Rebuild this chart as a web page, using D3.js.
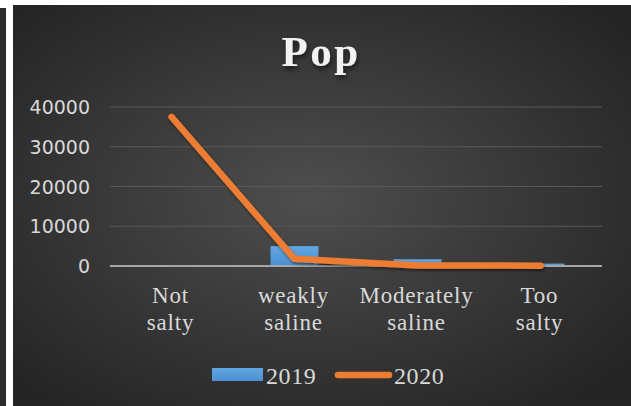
<!DOCTYPE html>
<html>
<head>
<meta charset="utf-8">
<script src="https://cdn.jsdelivr.net/npm/d3@7"></script>
<style>
  html, body { margin: 0; padding: 0; background: #fff; }
  svg { display: block; }
</style>
</head>
<body>
<div id="chart"></div>
<script>
// data
var categories = [["Not", "salty"], ["weakly", "saline"], ["Moderately", "saline"], ["Too", "salty"]];
var values_2019 = [0, 5000, 1700, 600];
var values_2020 = [37500, 1800, 150, 80];
var y_ticks = [0, 10000, 20000, 30000, 40000];
var series_names = ["2019", "2020"];

var width = 631, height = 406;
var margin = {top: 107, right: 29, bottom: 140, left: 110};
var serif = "Liberation Serif, Times New Roman, serif";

var svg = d3.select("#chart").append("svg")
  .attr("width", width)
  .attr("height", height);

var defs = svg.append("defs");

var bg = defs.append("radialGradient")
  .attr("id", "bg_grad")
  .attr("cx", "48%").attr("cy", "48%").attr("r", "65%");
bg.append("stop").attr("offset", "0%").attr("stop-color", "#4e4e4e");
bg.append("stop").attr("offset", "100%").attr("stop-color", "#252525");

var bar_grad = defs.append("linearGradient")
  .attr("id", "bar_grad")
  .attr("x1", 0).attr("y1", 0).attr("x2", 0).attr("y2", 1);
bar_grad.append("stop").attr("offset", "0%").attr("stop-color", "#62a6e2");
bar_grad.append("stop").attr("offset", "100%").attr("stop-color", "#4a8fd0");

var shadow = defs.append("filter").attr("id", "shadow")
  .attr("x", "-20%").attr("y", "-20%").attr("width", "140%").attr("height", "140%");
shadow.append("feDropShadow")
  .attr("dx", 1).attr("dy", 2).attr("stdDeviation", 1.5)
  .attr("flood-color", "#000").attr("flood-opacity", 0.5);

var soft = defs.append("filter").attr("id", "soft")
  .attr("x", "-20%").attr("y", "-20%").attr("width", "140%").attr("height", "140%");
soft.append("feDropShadow")
  .attr("dx", 1).attr("dy", 3).attr("stdDeviation", 2.5)
  .attr("flood-color", "#000").attr("flood-opacity", 0.6);

// left strip + panel
svg.append("rect").attr("x", 0).attr("y", 8).attr("width", 6).attr("height", height - 8).attr("fill", "#2b2b2b");
svg.append("rect").attr("x", 13).attr("y", 5).attr("width", width - 13).attr("height", height - 5).attr("fill", "url(#bg_grad)");

var x = d3.scaleBand()
  .domain(d3.range(categories.length))
  .range([margin.left, width - margin.right]);

var y = d3.scaleLinear()
  .domain([0, 40000])
  .range([height - margin.bottom, margin.top]);

// gridlines
svg.append("g").selectAll("line")
  .data(y_ticks.filter(function(d){ return d > 0 }))
  .enter().append("line")
  .attr("x1", margin.left).attr("x2", width - margin.right)
  .attr("y1", function(d){ return y(d) }).attr("y2", function(d){ return y(d) })
  .attr("stroke", "#585858").attr("stroke-width", 1);

// y labels
svg.append("g").selectAll("text")
  .data(y_ticks)
  .enter().append("text")
  .attr("x", 90)
  .attr("y", function(d){ return y(d) + 7 })
  .attr("text-anchor", "end")
  .attr("font-family", "DejaVu Sans, sans-serif")
  .attr("font-size", 19)
  .attr("fill", "#d9d9d9")
  .text(function(d){ return d });

// bars 2019
svg.append("g").selectAll("rect")
  .data(values_2019)
  .enter().append("rect")
  .attr("x", function(d, i){ return x(i) + x.bandwidth() * 0.305 })
  .attr("width", x.bandwidth() * 0.39)
  .attr("y", function(d){ return y(d) })
  .attr("height", function(d){ return y(0) - y(d) })
  .attr("fill", "url(#bar_grad)");

// baseline
svg.append("line")
  .attr("x1", margin.left).attr("x2", width - margin.right)
  .attr("y1", y(0)).attr("y2", y(0))
  .attr("stroke", "#a6a6a6").attr("stroke-width", 2);

// line 2020
var line = d3.line()
  .x(function(d, i){ return x(i) + x.bandwidth() / 2 })
  .y(function(d){ return y(d) });

svg.append("path")
  .datum(values_2020)
  .attr("d", line)
  .attr("fill", "none")
  .attr("stroke", "#ed7d31")
  .attr("stroke-width", 6.5)
  .attr("stroke-linecap", "round")
  .attr("stroke-linejoin", "round")
  .attr("filter", "url(#shadow)");

// category labels
var cat = svg.append("g").selectAll("text")
  .data(categories)
  .enter().append("text")
  .attr("x", function(d, i){ return x(i) + x.bandwidth() / 2 - 1 })
  .attr("y", 303)
  .attr("text-anchor", "middle")
  .attr("font-family", serif)
  .attr("font-size", 23)
  .attr("letter-spacing", 0.8)
  .attr("fill", "#d9d9d9");
cat.selectAll("tspan")
  .data(function(d){ return d })
  .enter().append("tspan")
  .attr("x", function(){ return d3.select(this.parentNode).attr("x") })
  .attr("dy", function(d, i){ return i ? 27 : 0 })
  .text(function(d){ return d });

// title
svg.append("text")
  .attr("x", 321).attr("y", 66)
  .attr("text-anchor", "middle")
  .attr("font-family", serif)
  .attr("font-weight", "bold")
  .attr("font-size", 43)
  .attr("letter-spacing", 2.5)
  .attr("fill", "#f2f2f2")
  .attr("filter", "url(#soft)")
  .text("Pop");

// legend
var legend = svg.append("g");
legend.append("rect")
  .attr("x", 212).attr("y", 368).attr("width", 51).attr("height", 13)
  .attr("fill", "url(#bar_grad)");
legend.append("text")
  .attr("x", 266).attr("y", 384)
  .attr("font-family", serif)
  .attr("font-size", 24).attr("letter-spacing", 0.6).attr("fill", "#d9d9d9")
  .text(series_names[0]);
legend.append("line")
  .attr("x1", 338).attr("x2", 389).attr("y1", 375).attr("y2", 375)
  .attr("stroke", "#ed7d31").attr("stroke-width", 6.5).attr("stroke-linecap", "round");
legend.append("text")
  .attr("x", 394).attr("y", 384)
  .attr("font-family", serif)
  .attr("font-size", 24).attr("letter-spacing", 0.6).attr("fill", "#d9d9d9")
  .text(series_names[1]);
</script>
</body>
</html>
